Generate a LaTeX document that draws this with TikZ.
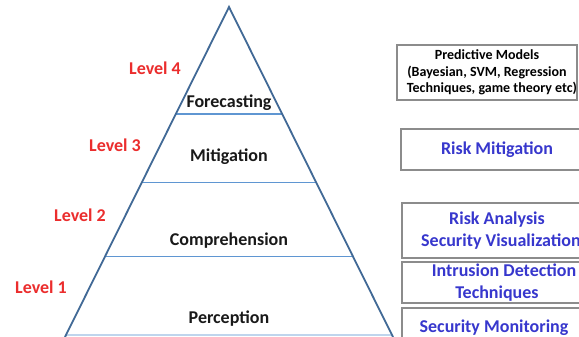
\documentclass[tikz,border=0pt]{standalone}
\usepackage{fontspec}
\setmainfont{Carlito}
\usetikzlibrary{calc}
\definecolor{edgeblue}{RGB}{65,105,150}
\definecolor{bandblue}{RGB}{95,150,210}
\definecolor{lvlred}{RGB}{235,45,45}
\definecolor{txtblue}{RGB}{55,55,205}
\definecolor{boxgray}{RGB}{140,140,140}
\tikzset{
  lvl/.style={text=lvlred, font=\fontsize{18}{22}\selectfont\bfseries, inner sep=0pt},
  tier/.style={text=black!90, font=\fontsize{18}{22}\selectfont\bfseries, inner sep=0pt},
  band/.style={draw=bandblue, line width=1.6pt},
  edge/.style={draw=edgeblue, line width=1.8pt},
  sidebox/.style={draw=boxgray, line width=1.6pt, fill=white, inner sep=0pt, align=center,
    text=txtblue, font=\fontsize{18}{22}\selectfont\bfseries},
}
\begin{document}
\begin{tikzpicture}[x=1pt,y=-1pt]
\useasboundingbox (0,0) rectangle (579,337);
\clip (0,0) rectangle (579,337);
\fill[white] (0,0) rectangle (579,337);
% pyramid
\coordinate (A) at (229,7);
\coordinate (BL) at (65,337);
\coordinate (BR) at (393,337);
\coordinate (l1) at ($(A)!0.324!(BL)$);
\coordinate (r1) at ($(A)!0.324!(BR)$);
\coordinate (l2) at ($(A)!0.532!(BL)$);
\coordinate (r2) at ($(A)!0.532!(BR)$);
\coordinate (l3) at ($(A)!0.756!(BL)$);
\coordinate (r3) at ($(A)!0.756!(BR)$);
\coordinate (l4) at ($(A)!0.994!(BL)$);
\coordinate (r4) at ($(A)!0.994!(BR)$);
\draw[band] (l1) -- (r1);
\draw[band] (l2) -- (r2);
\draw[band] (l3) -- (r3);
\draw[band, draw=bandblue!40] (l4) -- (r4);
\draw[edge] (BL) -- (A) -- (BR);
% tier labels
\node[tier] (fc) at (229,103) {Forecasting};
\node[tier] (mi) at (229,157) {Mitigation};
\node[tier] (co) at (229,241) {Comprehension};
\node[tier] (pe) at (229,319) {Perception};
% levels
\node[lvl] (L4) at (155,68) {Level 4};
\node[lvl] (L3) at (115,145) {Level 3};
\node[lvl] (L2) at (80,215) {Level 2};
\node[lvl] (L1) at (41,287) {Level 1};
% side boxes
\node[sidebox, minimum width=180pt, minimum height=55pt, text=black,
  font=\fontsize{14}{16.5}\selectfont\bfseries] (b1) at (487,72.5)
  {Predictive Models\\(Bayesian, SVM, Regression\\\hspace*{10pt}Techniques, game theory etc)};
\node[sidebox, minimum width=192pt, minimum height=41pt] (b2) at (497,149.5) {Risk Mitigation};
\node[sidebox, minimum width=190pt, minimum height=55pt] (b3) at (497,230.5) {Risk Analysis\\\hspace*{8pt}Security Visualization};
\node[sidebox, minimum width=190pt, minimum height=41pt] (b4) at (497,282.5) {\hspace*{14pt}Intrusion Detection\\Techniques};
\node[sidebox, minimum width=190pt, minimum height=40pt] (b5) at (497,328) {Security Monitoring\hspace*{6pt}};
\end{tikzpicture}
\end{document}
